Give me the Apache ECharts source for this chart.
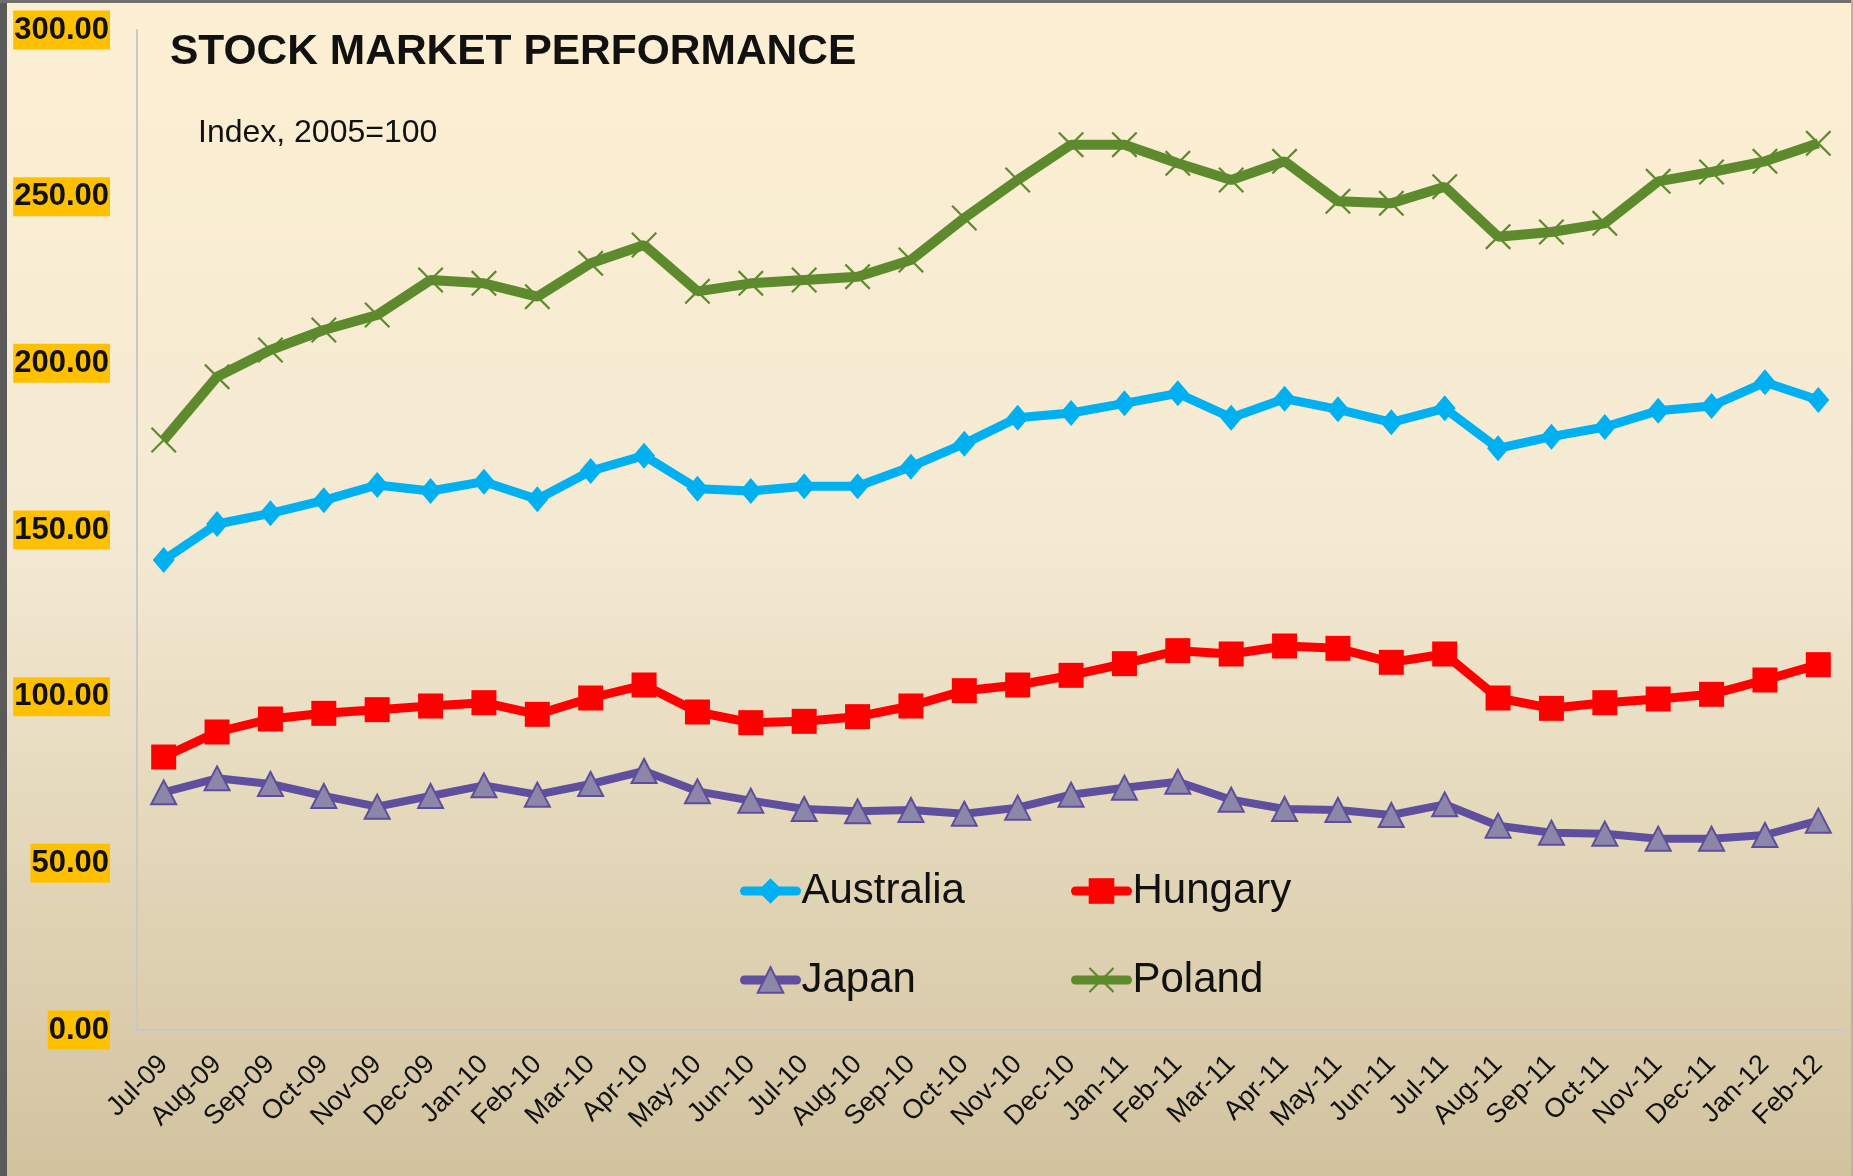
<!DOCTYPE html>
<html>
<head>
<meta charset="utf-8">
<title>Stock market performance</title>
<script src="https://cdn.jsdelivr.net/npm/echarts@6/dist/echarts.min.js"></script>
<style>
  html, body { margin: 0; padding: 0; background: #5a5a5a; }
  #chart { width: 1853px; height: 1176px; }
</style>
</head>
<body>
<div id="chart"></div>
<script>
// months on the x axis
const months = [
  'Jul-09', 'Aug-09', 'Sep-09', 'Oct-09', 'Nov-09', 'Dec-09',
  'Jan-10', 'Feb-10', 'Mar-10', 'Apr-10', 'May-10', 'Jun-10',
  'Jul-10', 'Aug-10', 'Sep-10', 'Oct-10', 'Nov-10', 'Dec-10',
  'Jan-11', 'Feb-11', 'Mar-11', 'Apr-11', 'May-11', 'Jun-11',
  'Jul-11', 'Aug-11', 'Sep-11', 'Oct-11', 'Nov-11', 'Dec-11',
  'Jan-12', 'Feb-12'
]

// index values, 2005=100
const australia = [
  141, 151.8, 155, 158.9, 163.5, 161.7, 164.5, 159.2, 167.7, 172.3, 162.4, 161.7,
  163.1, 163.1, 169, 175.9, 183.7, 185.1, 188, 191, 183.7, 189.4, 186.2, 182.3,
  186.5, 174.5, 178, 180.9, 185.8, 187.2, 194.3, 189
]
const hungary = [
  81.9, 89.4, 93.3, 95, 96.1, 97.2, 98.2, 94.7, 99.6, 103.5, 95.4, 92.2,
  92.6, 94, 97.2, 101.8, 103.5, 106.4, 109.9, 113.8, 112.8, 115.2, 114.5, 110.3,
  112.8, 99.6, 96.5, 98.2, 99.3, 100.7, 105, 109.6
]
const japan = [
  71.3, 75.5, 73.8, 70.2, 67, 70.2, 73.4, 70.6, 73.8, 77.7, 71.6, 68.8,
  66.3, 65.6, 66, 64.9, 66.7, 70.6, 72.7, 74.5, 69.1, 66.3, 66, 64.5,
  67.7, 61.3, 59.2, 58.9, 57.4, 57.4, 58.5, 62.8
]
const poland = [
  177, 196, 204, 210, 214.5, 225, 224, 220, 230, 235.5, 221.6, 224,
  225, 226, 231, 243.6, 255, 265.6, 265.6, 260, 255, 260.6, 248.6, 248,
  253, 238, 239.4, 242, 254.6, 257.4, 260.6, 266
]

const FONT = '"Liberation Sans", Arial, sans-serif'
// thin "x" marker used by Poland
const crossPath = 'path://M0,6L6,0L50,44L94,0L100,6L56,50L100,94L94,100L50,56L6,100L0,94L44,50Z'

let myChart = echarts.init(document.getElementById('chart'))

function legendAt (name, left, top) {
  return {
    data: [name],
    left: left,
    top: top,
    itemWidth: 52,
    itemHeight: 32,
    lineStyle: { width: 9, cap: 'round' },
    textStyle: { fontFamily: FONT, fontSize: 42, color: '#111' }
  }
}

let option = {
  animation: false,
  backgroundColor: new echarts.graphic.LinearGradient(0, 0, 0, 1, [
    { offset: 0, color: '#fdefd2' },
    { offset: 0.45, color: '#f4ead3' },
    { offset: 1, color: '#d2c39f' }
  ]),
  title: [
    {
      text: 'STOCK MARKET PERFORMANCE',
      left: 165,
      top: 26,
      textStyle: { fontFamily: FONT, fontSize: 42.5, fontWeight: 'bold', color: '#111' }
    },
    {
      text: 'Index, 2005=100',
      left: 193,
      top: 112,
      textStyle: { fontFamily: FONT, fontSize: 32, fontWeight: 'normal', color: '#111' }
    }
  ],
  legend: [
    legendAt('Australia', 735, 865),
    legendAt('Hungary', 1066, 865),
    legendAt('Japan', 735, 954),
    legendAt('Poland', 1066, 954)
  ],
  grid: { left: 137, right: 8, top: 30, bottom: 146 },
  xAxis: {
    type: 'category',
    data: months,
    boundaryGap: true,
    axisLine: { lineStyle: { color: '#c8c8c8', width: 2 } },
    axisTick: { show: false },
    axisLabel: {
      interval: 0,
      rotate: 45,
      margin: 30,
      fontFamily: FONT,
      fontSize: 27,
      color: '#111'
    }
  },
  yAxis: {
    type: 'value',
    min: 0,
    max: 300,
    interval: 50,
    axisLine: { show: true, lineStyle: { color: '#c8c8c8', width: 2 } },
    axisTick: { show: false },
    splitLine: { show: false },
    axisLabel: {
      margin: 27,
      fontFamily: FONT,
      fontSize: 31,
      fontWeight: 'bold',
      color: '#111',
      backgroundColor: '#ffc000',
      padding: [5, 1, 3, 1],
      formatter: v => v.toFixed(2)
    }
  },
  series: [
    {
      name: 'Australia',
      type: 'line',
      data: australia,
      symbol: 'diamond',
      symbolSize: [22, 26],
      lineStyle: { color: '#00b0f0', width: 9 },
      itemStyle: { color: '#00b0f0' },
      z: 3
    },
    {
      name: 'Hungary',
      type: 'line',
      data: hungary,
      symbol: 'rect',
      symbolSize: 25,
      lineStyle: { color: '#ff0000', width: 9 },
      itemStyle: { color: '#ff0000' },
      z: 3
    },
    {
      name: 'Japan',
      type: 'line',
      data: japan,
      symbol: 'triangle',
      symbolSize: [25, 24],
      lineStyle: { color: '#5f4f9e', width: 8 },
      itemStyle: { color: '#8c87a9', borderColor: '#5d4e9d', borderWidth: 2 },
      z: 3
    },
    {
      name: 'Poland',
      type: 'line',
      data: poland,
      symbol: crossPath,
      symbolSize: 26,
      lineStyle: { color: '#5e8a2e', width: 10 },
      itemStyle: { color: '#5e8a2e' },
      z: 3
    }
  ],
  graphic: [
    // dark frame strips at the left and top edge
    { type: 'rect', left: 0, top: 0, shape: { width: 7, height: 1176 }, style: { fill: '#5a5a5a' }, z: 10 },
    { type: 'rect', left: 0, top: 0, shape: { width: 1853, height: 3 }, style: { fill: '#6e6e6e' }, z: 10 },
    { type: 'rect', right: 0, top: 0, shape: { width: 2, height: 1176 }, style: { fill: '#bdb39a' }, z: 10 }
  ]
}

myChart.setOption(option)
window.onresize = function () {
  myChart.resize()
}
</script>
</body>
</html>
